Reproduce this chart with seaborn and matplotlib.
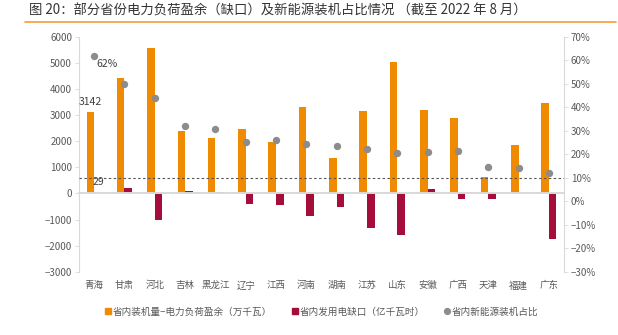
import matplotlib
matplotlib.use("Agg")
import matplotlib.pyplot as plt
from matplotlib.lines import Line2D
from matplotlib.ticker import PercentFormatter, MultipleLocator, FixedLocator
import numpy as np
import pandas as pd
import seaborn as sns

# ---- data ----
provinces = ["青海", "甘肃", "河北", "吉林", "黑龙江", "辽宁", "江西", "河南",
             "湖南", "江苏", "山东", "安徽", "广西", "天津", "福建", "广东"]
# 省内装机量-电力负荷盈余（万千瓦）
surplus = [3142, 4410, 5570, 2390, 2110, 2455, 1980, 3320,
           1355, 3155, 5045, 3185, 2900, 615, 1855, 3475]
# 省内发用电缺口（亿千瓦时）
gap = [29, 215, -1010, 100, 50, -420, -450, -845,
       -515, -1330, -1590, 175, -230, -205, 0, -1765]
# 省内新能源装机占比
share = [0.62, 0.498, 0.44, 0.321, 0.307, 0.254, 0.261, 0.246,
         0.237, 0.224, 0.204, 0.209, 0.216, 0.145, 0.141, 0.121]
ref_share = 0.10

s1 = "省内装机量−电力负荷盈余（万千瓦）"
s2 = "省内发用电缺口（亿千瓦时）"
s3 = "省内新能源装机占比"

ORANGE = "#F08A00"
RED = "#A50D3B"
GREY = "#8C8C8C"
AXIS = "#D9D9D9"
TEXT = "#595959"

sns.set_theme(style="white")
plt.rcParams["font.family"] = ["Noto Sans CJK SC", "DejaVu Sans"]
plt.rcParams["axes.unicode_minus"] = True

df = pd.DataFrame({
    "省份": provinces * 2,
    "系列": [s1] * len(provinces) + [s2] * len(provinces),
    "数值": surplus + gap,
})

fig = plt.figure(figsize=(6.18, 3.35), dpi=100)
ax = fig.add_axes([79 / 618, 1 - 271.7 / 335, (564 - 79) / 618, (271.7 - 37) / 335])

sns.barplot(data=df, x="省份", y="数值", hue="系列", palette=[ORANGE, RED],
            width=0.5, saturation=1, legend=False, ax=ax, zorder=2,
            edgecolor="none")

ax2 = ax.twinx()
sns.stripplot(x=provinces, y=share, ax=ax2, jitter=False, color=GREY,
              size=5.3, linewidth=0, zorder=4)
ax2.axhline(ref_share, color="#555555", lw=0.8, ls=(0, (2.2, 2.2)), zorder=3)

# left axis
ax.set_ylim(-3000, 6000)
ax.yaxis.set_major_locator(MultipleLocator(1000))
ax.set_xlim(-0.5, len(provinces) - 0.5)
ax.set_xlabel("")
ax.set_ylabel("")
for side in ["top", "right"]:
    ax.spines[side].set_visible(False)
ax.spines["left"].set_color(AXIS)
ax.spines["left"].set_linewidth(0.8)
ax.spines["bottom"].set_position(("data", 0))
ax.spines["bottom"].set_color(AXIS)
ax.spines["bottom"].set_linewidth(1.4)
ax.tick_params(axis="y", which="major", direction="out", length=3, width=0.6,
               color=AXIS, labelsize=7, labelcolor=TEXT, pad=2)
ax.set_xticks(range(len(provinces)))
ax.set_xticklabels(provinces)
ax.tick_params(axis="x", which="major", length=0, labelsize=6.8,
               labelcolor=TEXT, pad=63)
ax.xaxis.set_minor_locator(FixedLocator(np.arange(-0.5, len(provinces), 1.0)))
ax.tick_params(axis="x", which="minor", direction="out", length=3, width=0.6,
               color=AXIS)

# right axis
ax2.set_ylim(-0.3, 0.7)
ax2.yaxis.set_major_locator(MultipleLocator(0.1))
ax2.yaxis.set_major_formatter(PercentFormatter(1, decimals=0))
ax2.set_ylabel("")
for side in ["top", "left", "bottom"]:
    ax2.spines[side].set_visible(False)
ax2.spines["right"].set_color(AXIS)
ax2.spines["right"].set_linewidth(0.8)
ax2.tick_params(axis="y", direction="out", length=3, width=0.6, color=AXIS,
                labelsize=7, labelcolor=TEXT, pad=2)
ax2.set_xlim(-0.5, len(provinces) - 0.5)

# value labels for 青海
lab_col = "#404040"
ax.annotate(f"{surplus[0]}", xy=(-0.125, surplus[0]), xytext=(0, 3.5),
            textcoords="offset points", ha="center", va="bottom",
            fontsize=7.5, color=lab_col)
ax.annotate(f"{gap[0]}", xy=(0.125, gap[0]), xytext=(0, 4),
            textcoords="offset points", ha="center", va="bottom",
            fontsize=7.5, color=lab_col)
ax2.annotate(f"{share[0]:.0%}", xy=(0, share[0]), xytext=(9, -6),
             textcoords="offset points", ha="center", va="center",
             fontsize=7.5, color=lab_col)

# title and rule
fig.text(29 / 618, 1 - 10.5 / 335,
         "图 20：部分省份电力负荷盈余（缺口）及新能源装机占比情况 （截至 2022 年 8 月）",
         ha="left", va="center", fontsize=9.6, color="#333333", fontweight="medium")
fig.add_artist(Line2D([25 / 618, 616 / 618], [1 - 22 / 335, 1 - 22 / 335],
                      color="#F39C3C", lw=1.2))

# legend
handles = [
    Line2D([], [], marker="s", ls="none", color=ORANGE, markersize=4.2, label=s1),
    Line2D([], [], marker="s", ls="none", color=RED, markersize=4.2, label=s2),
    Line2D([], [], marker="o", ls="none", color=GREY, markersize=4.2, label=s3),
]
fig.legend(handles=handles, loc="center", bbox_to_anchor=(322 / 618, 1 - 312 / 335),
           ncol=3, frameon=False, fontsize=6.9, handlelength=0.6,
           handletextpad=0.15, columnspacing=2.1, labelcolor=TEXT)

fig.savefig("out.png", dpi=100)
